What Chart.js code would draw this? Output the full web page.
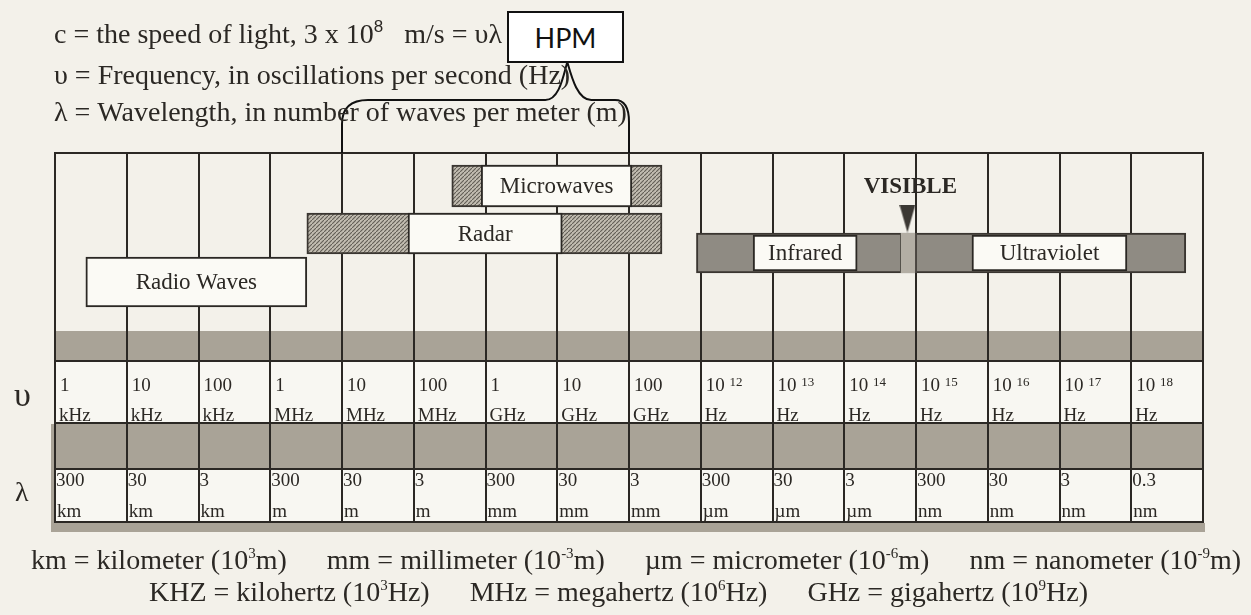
<!DOCTYPE html>
<html>
<head>
<meta charset="utf-8">
<script src="https://cdn.jsdelivr.net/npm/chart.js@4.4.1/dist/chart.umd.min.js"></script>
<style>
  html, body { margin: 0; padding: 0; background: #f3f1ea; }
  #wrap { position: relative; width: 1251px; height: 615px; overflow: hidden; }
  #c { position: absolute; left: 0; top: 0; }
  .t { position: absolute; white-space: nowrap; line-height: 1; color: #2b2824;
       font-family: "Liberation Serif", "Times New Roman", serif; font-size: 28px; }
  .t sup { font-size: 15px; line-height: 0; vertical-align: 11px; }
  .g { display: inline-block; width: 40px; }
  #hpm { position: absolute; left: 507px; top: 11px; width: 113px; height: 48px; border: 2px solid #111;
         background: #fff; font-family: Lato, "Open Sans", sans-serif; font-size: 27px; color: #111;
         text-align: center; line-height: 50px; }
</style>
</head>
<body>
<div id="wrap">
  <canvas id="c" width="1251" height="615"></canvas>

  <div class="t" style="left:54px;top:20px">c = the speed of light, 3 x 10<sup style="font-family:'Liberation Sans',sans-serif;font-size:17px">8</sup>&nbsp;&nbsp; m/s = υλ</div>
  <div class="t" style="left:54px;top:61px">υ = Frequency, in oscillations per second (Hz)</div>
  <div class="t" style="left:54px;top:98px">λ = Wavelength, in number of waves per meter (m)</div>
  <div id="hpm">HPM</div>

  <div class="t" style="left:14px;top:378px;font-size:34px">υ</div>
  <div class="t" style="left:15px;top:478px;font-size:28px">λ</div>

  <div class="t" style="left:31px;top:546px">km = kilometer (10<sup>3</sup>m)<span class="g"></span>mm = millimeter (10<sup>-3</sup>m)<span class="g"></span>µm = micrometer (10<sup>-6</sup>m)<span class="g"></span>nm = nanometer (10<sup>-9</sup>m)</div>
  <div class="t" style="left:149px;top:578px">KHZ = kilohertz (10<sup>3</sup>Hz)<span class="g"></span>MHz = megahertz (10<sup>6</sup>Hz)<span class="g"></span>GHz = gigahertz (10<sup>9</sup>Hz)</div>
</div>

<script>
// columns: left edge of each cell in log10(Hz)
const colEdges  = [3, 4, 5, 6, 7, 8, 9, 10, 11, 12, 13, 14, 15, 16, 17, 18, 19];
const freqNums  = ['1', '10', '100', '1', '10', '100', '1', '10', '100', '10', '10', '10', '10', '10', '10', '10'];
const freqExps  = ['', '', '', '', '', '', '', '', '', '12', '13', '14', '15', '16', '17', '18'];
const freqUnits = ['kHz', 'kHz', 'kHz', 'MHz', 'MHz', 'MHz', 'GHz', 'GHz', 'GHz', 'Hz', 'Hz', 'Hz', 'Hz', 'Hz', 'Hz', 'Hz'];
const waveNums  = ['300', '30', '3', '300', '30', '3', '300', '30', '3', '300', '30', '3', '300', '30', '3', '0.3'];
const waveUnits = ['km', 'km', 'km', 'm', 'm', 'm', 'mm', 'mm', 'mm', 'µm', 'µm', 'µm', 'nm', 'nm', 'nm', 'nm'];

// named label boxes (log10 Hz) and the row (lane) they sit on
const boxNames = ['Microwaves', 'Radar', 'Radio Waves', 'Infrared', 'Ultraviolet'];
const boxFrom  = [8.94, 7.92, 3.43, 12.73, 15.78];
const boxTo    = [11.04, 10.07, 6.51, 14.18, 17.94];
const boxLane  = [3.3, 8.05, 12.9, 10.0, 10.0];

// full extent of the shaded bands behind the boxes
const bandNames = ['Microwaves', 'Radar', 'Optical'];
const bandFrom  = [8.53, 6.51, 11.94];
const bandTo    = [11.46, 11.46, 18.76];
const bandLane  = [3.3, 8.05, 10.0];

const visibleSpan = [14.78, 15.01];
const visibleMark = 14.88;
const hpmSpan = [7, 11];
const hpmTip = 10.14;

const ink = '#2b2824';
const serif = '"Liberation Serif", "Times New Roman", serif';

const canvas = document.getElementById('c');
const hatchTile = document.createElement('canvas');
hatchTile.width = hatchTile.height = 4;
(function(){
  const g = hatchTile.getContext('2d');
  g.fillStyle = '#c2bdb1'; g.fillRect(0, 0, 4, 4);
  g.strokeStyle = '#625d55'; g.lineWidth = 1.1;
  g.beginPath(); g.moveTo(-1, 5); g.lineTo(5, -1); g.stroke();
})();
const hatch = canvas.getContext('2d').createPattern(hatchTile, 'repeat');

const tri = document.createElement('canvas');
tri.width = 16; tri.height = 28;
(function(){
  const g = tri.getContext('2d');
  g.fillStyle = '#3b3833';
  g.beginPath(); g.moveTo(0, 0); g.lineTo(16, 0); g.lineTo(8, 28); g.closePath(); g.fill();
})();

const boxThick = { 'Microwaves': 42, 'Radar': 41, 'Radio Waves': 50, 'Infrared': 36, 'Ultraviolet': 36 };
const bandStyle = {
  'Microwaves': { bg: hatch, thick: 42 },
  'Radar': { bg: hatch, thick: 41 },
  'Optical': { bg: '#8f8b83', thick: 40 }
};

const datasets = [
  { type: 'scatter', label: 'VISIBLE', data: [{ x: visibleMark, y: 6.55 }], pointStyle: tri, pointRadius: 10, order: 0 },
  ...boxNames.map((n, i) => ({
    label: n, data: [{ x: [boxFrom[i], boxTo[i]], y: boxLane[i] }],
    backgroundColor: '#fbfaf5', borderColor: ink, borderWidth: 2, borderSkipped: false,
    barThickness: boxThick[n], stack: 'em', order: 1
  })),
  { label: 'visible light', data: [{ x: visibleSpan, y: 10.0 }], backgroundColor: '#b3aea4', borderColor: '#4a4640',
    borderWidth: { left: 1, right: 2, top: 0, bottom: 0 }, borderSkipped: false, barThickness: 40, stack: 'em', order: 2 },
  ...bandNames.map((n, i) => ({
    label: n + ' band', data: [{ x: [bandFrom[i], bandTo[i]], y: bandLane[i] }],
    backgroundColor: bandStyle[n].bg, borderColor: '#3a3631', borderWidth: 2, borderSkipped: false,
    barThickness: bandStyle[n].thick, stack: 'em', order: 3
  }))
];

// table rows under the bands (y in lane units)
const tableRows = [[17.8, 20.9, '#a9a397'], [20.9, 27.1, '#f8f7f2'], [27.1, 31.7, '#a9a397'], [31.7, 37, '#f8f7f2']];

const tablePlugin = {
  id: 'table',
  beforeDraw(chart){
    const { ctx, chartArea: a, scales: { y } } = chart;
    ctx.save();
    ctx.fillStyle = '#a9a397';
    ctx.fillRect(a.left - 4, a.bottom, a.right - a.left + 6, 9);
    ctx.fillRect(a.left - 4, y.getPixelForValue(27.1), 4, a.bottom - y.getPixelForValue(27.1));
    tableRows.forEach(([f, t, c]) => {
      ctx.fillStyle = c;
      ctx.fillRect(a.left, y.getPixelForValue(f), a.right - a.left, y.getPixelForValue(t) - y.getPixelForValue(f));
    });
    ctx.strokeStyle = ink; ctx.lineWidth = 2;
    [20.9, 27.1, 31.7, 37].forEach(v => {
      const py = Math.round(y.getPixelForValue(v)) - 1;
      ctx.beginPath(); ctx.moveTo(a.left, py); ctx.lineTo(a.right + 1, py); ctx.stroke();
    });
    ctx.restore();
  },
  afterDraw(chart){
    const { ctx, chartArea: a, scales: { x, y } } = chart;
    ctx.save();
    ctx.fillStyle = ink;
    ctx.textBaseline = 'alphabetic';
    ctx.textAlign = 'left';
    freqNums.forEach((n, i) => {
      const px = x.getPixelForValue(colEdges[i]);
      ctx.font = '19px ' + serif;
      ctx.fillText(n, px + 5, y.getPixelForValue(23.8));
      if (freqExps[i]) {
        const w = ctx.measureText(n + ' ').width;
        ctx.font = '13px ' + serif;
        ctx.fillText(freqExps[i], px + 5 + w, y.getPixelForValue(23.3));
        ctx.font = '19px ' + serif;
      }
      ctx.fillText(freqUnits[i], px + 4, y.getPixelForValue(26.8));
      ctx.fillText(waveNums[i], px + 1, y.getPixelForValue(33.3));
      ctx.fillText(waveUnits[i], px + 2, y.getPixelForValue(36.4));
    });

    // labels inside the white boxes
    ctx.textAlign = 'center';
    ctx.textBaseline = 'middle';
    ctx.font = '23px ' + serif;
    boxNames.forEach((n, i) => {
      ctx.fillText(n, x.getPixelForValue((boxFrom[i] + boxTo[i]) / 2), y.getPixelForValue(boxLane[i]) + 1);
    });
    ctx.font = 'bold 23px ' + serif;
    ctx.fillText('VISIBLE', x.getPixelForValue(visibleMark) + 3, y.getPixelForValue(3.4));

    // HPM brace
    const l = x.getPixelForValue(hpmSpan[0]), r = x.getPixelForValue(hpmSpan[1]), tp = x.getPixelForValue(hpmTip);
    const top = a.top, mid = 100, tipY = 62;
    ctx.strokeStyle = '#111'; ctx.lineWidth = 2;
    ctx.beginPath();
    ctx.moveTo(l, top); ctx.lineTo(l, mid + 24);
    ctx.quadraticCurveTo(l, mid, l + 26, mid);
    ctx.lineTo(tp - 22, mid);
    ctx.bezierCurveTo(tp - 8, mid, tp - 4, tipY + 14, tp, tipY);
    ctx.moveTo(tp, tipY);
    ctx.bezierCurveTo(tp + 4, tipY + 14, tp + 10, mid, tp + 24, mid);
    ctx.lineTo(r - 14, mid);
    ctx.quadraticCurveTo(r, mid, r, mid + 22);
    ctx.lineTo(r, top);
    ctx.stroke();
    ctx.restore();
  }
};

new Chart(canvas, {
  type: 'bar',
  data: { datasets },
  options: {
    indexAxis: 'y',
    responsive: false,
    animation: false,
    devicePixelRatio: 1,
    layout: { padding: { left: 55, right: 48, top: 153, bottom: 92 } },
    plugins: { legend: { display: false }, tooltip: { enabled: false } },
    scales: {
      x: {
        type: 'linear', position: 'top', min: 3, max: 19, offset: false, stacked: false,
        afterBuildTicks: s => { s.ticks = colEdges.map(v => ({ value: v })); },
        ticks: { display: false },
        grid: { color: ink, lineWidth: 2, drawTicks: false, offset: false },
        border: { display: true, color: ink, width: 2 }
      },
      y: { type: 'linear', display: false, reverse: true, min: 0, max: 37, offset: false, stacked: true }
    }
  },
  plugins: [tablePlugin]
});
</script>
</body>
</html>
